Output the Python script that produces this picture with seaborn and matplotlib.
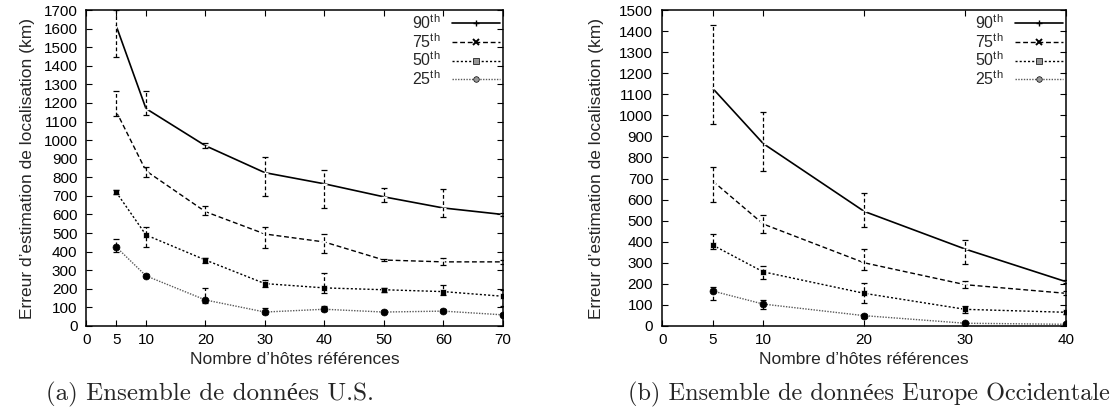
import numpy as np
import pandas as pd
import matplotlib
matplotlib.use("Agg")
import matplotlib.pyplot as plt
from matplotlib.lines import Line2D
import seaborn as sns

# ---- data: U.S. dataset -------------------------------------------------
us_x = [5, 10, 20, 30, 40, 50, 60, 70]
us_p90 = [1615, 1170, 970, 825, 765, 695, 635, 600]
us_p90_lo = [1450, 1135, 958, 700, 635, 667, 588, 592]
us_p90_hi = [1700, 1265, 982, 910, 840, 740, 737, 610]
us_p75 = [1155, 835, 615, 495, 452, 355, 345, 345]
us_p75_lo = [1130, 800, 595, 420, 395, 347, 330, 335]
us_p75_hi = [1265, 855, 645, 535, 495, 362, 365, 355]
us_p50 = [720, 490, 355, 228, 205, 195, 185, 160]
us_p50_lo = [710, 425, 340, 212, 180, 185, 168, 105]
us_p50_hi = [730, 530, 368, 245, 285, 205, 220, 195]
us_p25 = [425, 270, 140, 75, 90, 75, 80, 60]
us_p25_lo = [400, 262, 125, 65, 80, 68, 74, 55]
us_p25_hi = [470, 280, 205, 95, 105, 85, 90, 68]

# ---- data: Western Europe dataset --------------------------------------
eu_x = [5, 10, 20, 30, 40]
eu_p90 = [1128, 866, 544, 365, 210]
eu_p90_lo = [960, 735, 468, 294, 204]
eu_p90_hi = [1430, 1017, 630, 408, 216]
eu_p75 = [688, 484, 300, 196, 155]
eu_p75_lo = [590, 443, 266, 180, 146]
eu_p75_hi = [756, 527, 364, 212, 164]
eu_p50 = [384, 257, 155, 79, 65]
eu_p50_lo = [364, 222, 111, 60, 58]
eu_p50_hi = [437, 285, 202, 95, 72]
eu_p25 = [166, 104, 49, 13, 8]
eu_p25_lo = [123, 79, 40, 9, 5]
eu_p25_hi = [187, 123, 57, 18, 11]

labels = ["90$^{\\rm th}$", "75$^{\\rm th}$", "50$^{\\rm th}$", "25$^{\\rm th}$"]
us_xticks = [0, 5, 10, 20, 30, 40, 50, 60, 70]
eu_xticks = [0, 5, 10, 20, 30, 40]
xlabel = "Nombre d’hôtes références"
ylabel = "Erreur d’estimation de localisation (km)"
captions = ["(a) Ensemble de données U.S.", "(b) Ensemble de données Europe Occidentale"]

sns.set_theme(style="ticks")
plt.rcParams["font.family"] = ["Liberation Sans", "DejaVu Sans"]
plt.rcParams["mathtext.fontset"] = "custom"
plt.rcParams["mathtext.rm"] = "Liberation Sans"
plt.rcParams["xtick.direction"] = "in"
plt.rcParams["ytick.direction"] = "in"

styles = [
    dict(color="black", linestyle="-", linewidth=1.2, marker="+", markersize=5, mew=1.0),
    dict(color="black", linestyle=(0, (3.5, 2)), linewidth=1.0, marker="x", markersize=4, mew=1.4),
    dict(color="black", linestyle=(0, (1.5, 1.5)), linewidth=1.0, marker="s", markersize=5, mew=0.5),
    dict(color="0.35", linestyle=(0, (1, 1)), linewidth=1.0, marker="o", markersize=5,
         markerfacecolor="black", markeredgecolor="black", mew=0.5),
]


def draw_panel(ax, xs, series, xticks, ymax, ylabelpad):
    rows = []
    for lab, (y, lo, hi) in zip(labels, series):
        rows.append(pd.DataFrame({"x": xs, "y": y, "lo": lo, "hi": hi, "p": lab}))
    df = pd.concat(rows, ignore_index=True)
    for lab, st in zip(labels, styles):
        sub = df[df["p"] == lab]
        sns.lineplot(data=sub, x="x", y="y", ax=ax, errorbar=None, legend=False, **st)
        eb = ax.errorbar(sub["x"], sub["y"],
                         yerr=[sub["y"] - sub["lo"], sub["hi"] - sub["y"]],
                         fmt="none", ecolor="black", elinewidth=0.9,
                         capsize=2, capthick=0.9)
        eb[2][0].set_linestyle((0, (3, 2)))
    ax.set_xlim(0, xticks[-1])
    ax.set_ylim(0, ymax)
    ax.set_xticks(xticks)
    ax.set_yticks(np.arange(0, ymax + 1, 100))
    ax.tick_params(axis="both", which="both", direction="in", length=4, width=0.8,
                   top=True, right=True, labelsize=11, colors="black")
    ax.tick_params(axis="y", pad=6.5)
    ax.tick_params(axis="x", pad=5)
    for s in ax.spines.values():
        s.set_linewidth(1.1)
        s.set_color("black")
    ax.set_xlabel(xlabel, fontsize=12.5, labelpad=4)
    ax.set_ylabel(ylabel, fontsize=12.5, labelpad=ylabelpad)
    handles = []
    for st in styles:
        h = dict(st)
        if h["marker"] in ("s", "o"):
            h["markerfacecolor"] = "0.6"
            h["markeredgecolor"] = "black"
            h["markersize"] = 4
        handles.append(Line2D([], [], **h))
    ax.legend(handles, labels, loc="upper right", frameon=False, markerfirst=False,
              fontsize=11.5, handlelength=3.0, labelspacing=0.0, borderaxespad=0.1,
              handletextpad=0.7, borderpad=0.1)


fig = plt.figure(figsize=(11.13, 4.19), dpi=100)
ax1 = fig.add_axes([0.0777, 0.222, 0.374, 0.754])
ax2 = fig.add_axes([0.595, 0.222, 0.363, 0.754])

draw_panel(ax1, us_x,
           [(us_p90, us_p90_lo, us_p90_hi), (us_p75, us_p75_lo, us_p75_hi),
            (us_p50, us_p50_lo, us_p50_hi), (us_p25, us_p25_lo, us_p25_hi)],
           us_xticks, 1700, 6)
draw_panel(ax2, eu_x,
           [(eu_p90, eu_p90_lo, eu_p90_hi), (eu_p75, eu_p75_lo, eu_p75_hi),
            (eu_p50, eu_p50_lo, eu_p50_hi), (eu_p25, eu_p25_lo, eu_p25_hi)],
           eu_xticks, 1500, 11)

fig.text(0.1887, 0.058, captions[0], ha="center", va="center", fontsize=18,
         family=["cmr10", "Liberation Serif"])
fig.text(0.997, 0.058, captions[1], ha="right", va="center", fontsize=17.5,
         family=["cmr10", "Liberation Serif"])

fig.savefig("out.png", dpi=100)
